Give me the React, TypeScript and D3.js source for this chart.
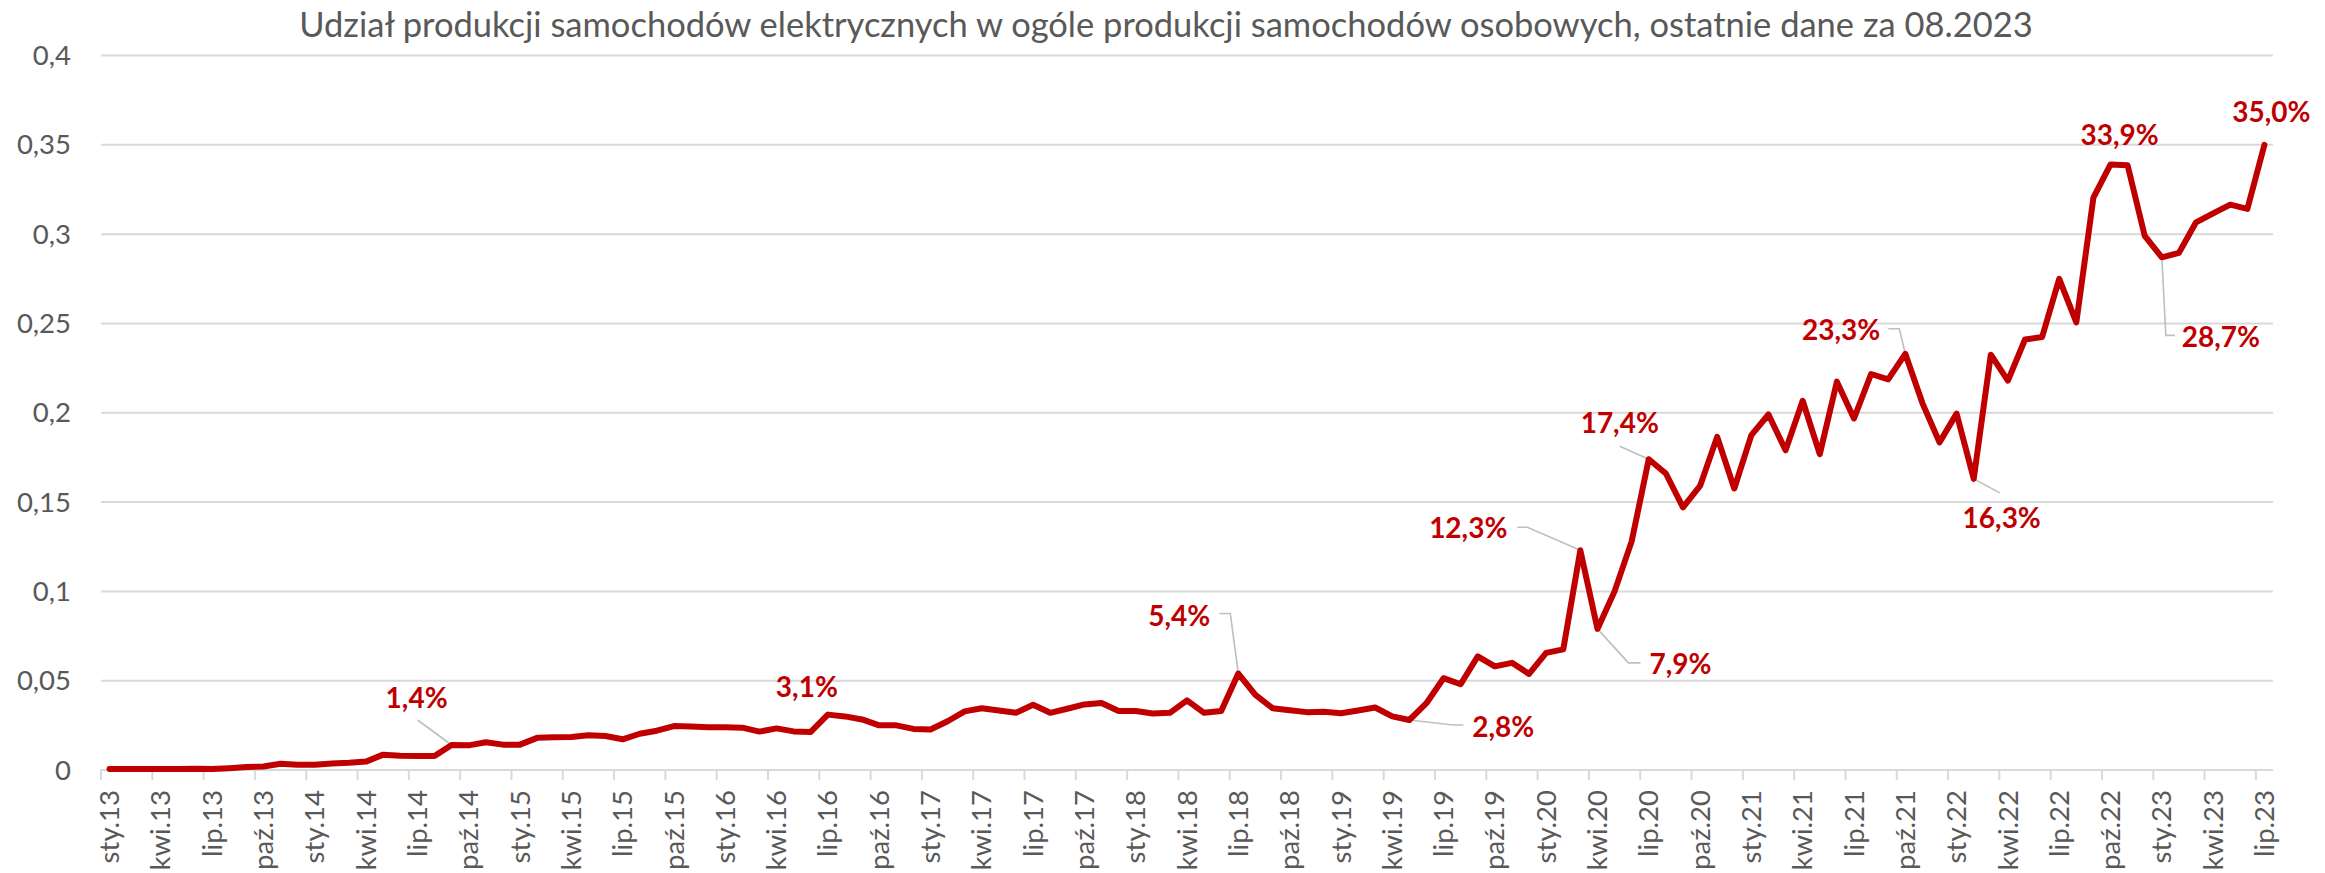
import React, { useEffect, useRef } from "react";
import * as d3 from "d3";

// polish month abbreviations + years -> category labels sty.13 ... lip.23
const monthNames = ["sty", "lut", "mar", "kwi", "maj", "cze", "lip", "sie", "wrz", "paź", "lis", "gru"];
const years = ["13", "14", "15", "16", "17", "18", "19", "20", "21", "22", "23"];

// share of EV production in passenger car production (monthly)
const shares = [
  0.0005, 0.0005, 0.0005, 0.0005, 0.0005, 0.0007, 0.0005, 0.001, 0.0017, 0.002,
  0.0035, 0.003, 0.003, 0.0037, 0.004, 0.0047, 0.0086, 0.008, 0.0078, 0.0078,
  0.014, 0.0138, 0.0155, 0.0142, 0.0142, 0.018, 0.0183, 0.0185, 0.0194, 0.019,
  0.0172, 0.0203, 0.022, 0.0246, 0.0243, 0.0239, 0.0239, 0.0237, 0.0215, 0.0233,
  0.0216, 0.0213, 0.031, 0.03, 0.0283, 0.025, 0.025, 0.023, 0.0227, 0.0273,
  0.0328, 0.0346, 0.0333, 0.032, 0.0365, 0.032, 0.0343, 0.0367, 0.0375, 0.033,
  0.033, 0.0316, 0.032, 0.039, 0.032, 0.033, 0.054, 0.042, 0.0346, 0.0335,
  0.0324, 0.0326, 0.0318, 0.0333, 0.035, 0.03, 0.028, 0.0374, 0.0514, 0.048,
  0.0636, 0.058, 0.06, 0.0538, 0.0656, 0.0675, 0.123, 0.079, 0.1, 0.128,
  0.174, 0.166, 0.147, 0.159, 0.1865, 0.1576, 0.1875, 0.199, 0.179, 0.2067,
  0.1768, 0.2174, 0.1968, 0.2217, 0.2187, 0.233, 0.2054, 0.1834, 0.1995, 0.163,
  0.2325, 0.218, 0.241, 0.2424, 0.275, 0.2506, 0.3204, 0.339, 0.3385, 0.299,
  0.287, 0.2895, 0.3066, 0.3116, 0.3165, 0.3141, 0.35,
];

const yTicks = [0, 0.05, 0.1, 0.15, 0.2, 0.25, 0.3, 0.35, 0.4];

const title =
  "Udział produkcji samochodów elektrycznych w ogóle produkcji samochodów osobowych, ostatnie dane za 08.2023";

// which points get a value label
const labelled = [20, 42, 66, 76, 86, 87, 90, 105, 109, 117, 120, 126];

// label placement relative to the point (text offset + leader line points)
const labelLayout: { [k: number]: { anchor: string; dx: number; dy: number; leader?: number[][] } } = {
  20: { anchor: "middle", dx: -35, dy: -37, leader: [[-34, -25], [0, 0]] },
  42: { anchor: "middle", dx: -21, dy: -18 },
  66: { anchor: "end", dx: -28, dy: -48, leader: [[-19, -60], [-8, -60], [0, 0]] },
  76: { anchor: "start", dx: 63, dy: 17, leader: [[0, 0], [44, 5], [54, 5]] },
  86: { anchor: "end", dx: -73, dy: -12, leader: [[-63, -23], [-53, -23], [0, 0]] },
  87: { anchor: "start", dx: 52, dy: 45, leader: [[0, 0], [31, 34], [43, 34]] },
  90: { anchor: "middle", dx: -29, dy: -26, leader: [[-29, -13], [0, 0]] },
  105: { anchor: "end", dx: -25, dy: -14, leader: [[-17, -25], [-6, -25], [0, 0]] },
  109: { anchor: "middle", dx: 28, dy: 49, leader: [[0, 0], [26, 14]] },
  117: { anchor: "middle", dx: 9, dy: -19 },
  120: { anchor: "start", dx: 20, dy: 90, leader: [[0, 0], [4, 78], [13, 78]] },
  126: { anchor: "middle", dx: 7, dy: -23 },
};

const W = 2325;
const H = 873;

export default function App() {
  const svgRef = useRef<SVGSVGElement>(null);

  useEffect(() => {
    const svg = d3.select(svgRef.current);
    svg.selectAll("*").remove();

    const categories: string[] = [];
    years.forEach((y) => monthNames.forEach((m) => categories.push(m + "." + y)));
    const cats = categories.slice(0, shares.length);

    const left = 101;
    const right = 2273;
    const top = 55.5;
    const bottom = 770;

    const x = d3.scaleBand<string>().domain(cats).range([left, right]).padding(0);
    const y = d3.scaleLinear().domain([0, 0.4]).range([bottom, top]);
    const cx = (i: number) => (x(cats[i]) as number) + x.bandwidth() / 2;

    const grey = "#595959";
    const font = "Lato, 'Open Sans', sans-serif";
    const fmtAxis = (v: number) => (v === 0 ? "0" : String(+v.toFixed(2)).replace(".", ","));
    const fmtPct = (v: number) => (v * 100).toFixed(1).replace(".", ",") + "%";

    // title
    svg
      .append("text")
      .attr("x", 1166)
      .attr("y", 37)
      .attr("text-anchor", "middle")
      .attr("fill", grey)
      .style("font-family", font)
      .style("font-size", "34.5px")
      .text(title);

    // gridlines
    svg
      .append("g")
      .selectAll("line")
      .data(yTicks)
      .enter()
      .append("line")
      .attr("x1", left)
      .attr("x2", right)
      .attr("y1", (d) => y(d))
      .attr("y2", (d) => y(d))
      .attr("stroke", "#d9d9d9")
      .attr("stroke-width", 2);

    // y labels
    svg
      .append("g")
      .selectAll("text")
      .data(yTicks)
      .enter()
      .append("text")
      .attr("x", 71)
      .attr("y", (d) => y(d))
      .attr("dy", "0.35em")
      .attr("text-anchor", "end")
      .attr("fill", grey)
      .style("font-family", font)
      .style("font-size", "27.5px")
      .text((d) => fmtAxis(d));

    // x ticks every 3 months, between categories
    const tickIdx = d3.range(0, cats.length, 3);
    svg
      .append("g")
      .selectAll("line")
      .data(tickIdx)
      .enter()
      .append("line")
      .attr("x1", (i) => x(cats[i]) as number)
      .attr("x2", (i) => x(cats[i]) as number)
      .attr("y1", bottom)
      .attr("y2", bottom + 10)
      .attr("stroke", "#d9d9d9")
      .attr("stroke-width", 2);

    svg
      .append("g")
      .selectAll("text")
      .data(tickIdx)
      .enter()
      .append("text")
      .attr("transform", (i) => `translate(${cx(i)}, ${bottom + 20}) rotate(-90)`)
      .attr("dy", "0.35em")
      .attr("text-anchor", "end")
      .attr("fill", grey)
      .style("font-family", font)
      .style("font-size", "27.5px")
      .text((i) => cats[i]);

    // leader lines
    const leaderLine = d3.line<number[]>().x((p) => p[0]).y((p) => p[1]);
    labelled.forEach((i) => {
      const lay = labelLayout[i];
      if (!lay.leader) return;
      const px = cx(i);
      const py = y(shares[i]);
      svg
        .append("path")
        .attr("d", leaderLine(lay.leader.map((p) => [px + p[0], py + p[1]])))
        .attr("fill", "none")
        .attr("stroke", "#bfbfbf")
        .attr("stroke-width", 1.6);
    });

    // series
    const line = d3
      .line<number>()
      .x((d, i) => cx(i))
      .y((d) => y(d));

    svg
      .append("path")
      .datum(shares)
      .attr("d", line)
      .attr("fill", "none")
      .attr("stroke", "#c00000")
      .attr("stroke-width", 6)
      .attr("stroke-linejoin", "round")
      .attr("stroke-linecap", "round");

    // value labels
    labelled.forEach((i) => {
      const lay = labelLayout[i];
      svg
        .append("text")
        .attr("x", cx(i) + lay.dx)
        .attr("y", y(shares[i]) + lay.dy)
        .attr("text-anchor", lay.anchor)
        .attr("fill", "#c00000")
        .style("font-family", font)
        .style("font-weight", "bold")
        .style("font-size", "28px")
        .text(fmtPct(shares[i]));
    });
  }, []);

  return (
    <svg
      ref={svgRef}
      width={W}
      height={H}
      style={{ position: "fixed", left: 0, top: 0, background: "#fff" }}
    />
  );
}
